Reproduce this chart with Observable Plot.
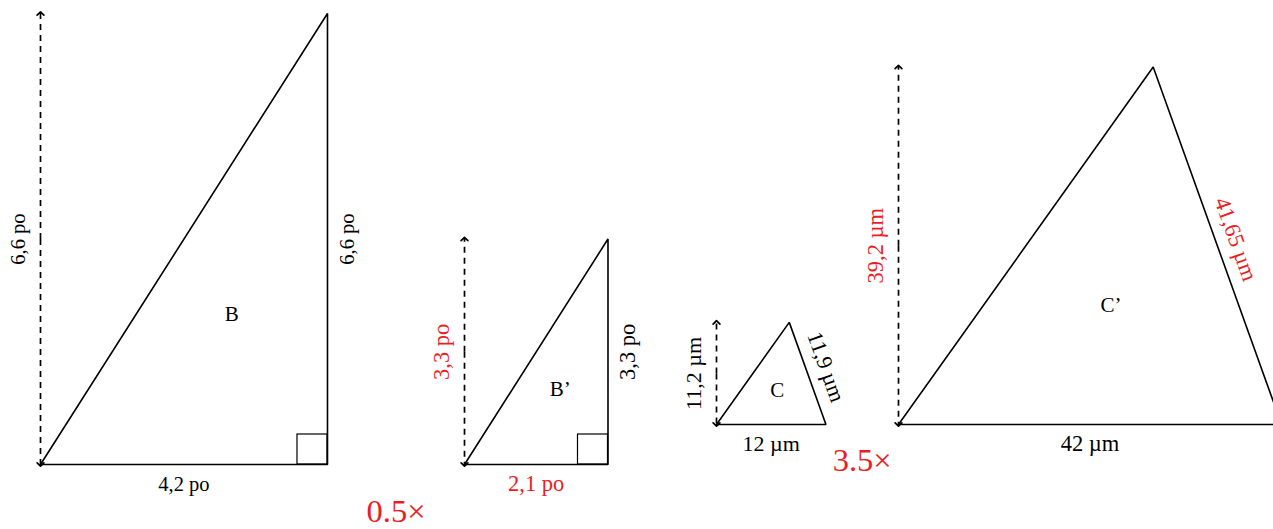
<!DOCTYPE html>
<html><head><meta charset="utf-8">
<script src="https://cdn.jsdelivr.net/npm/d3@7"></script>
<script src="https://cdn.jsdelivr.net/npm/@observablehq/plot@0.6"></script>
<style>
html,body{margin:0;padding:0;background:#fff;}
svg marker path{stroke-dasharray:none !important;}
</style></head><body><div id="chart"></div>
<script>
// ---- data ----
const shapes = ["B", "B’", "C", "C’"];
const units = ["po", "po", "µm", "µm"];
const bases = [4.2, 2.1, 12, 42];
const heights = [6.6, 3.3, 11.2, 39.2];
const sides = [6.6, 3.3, 11.9, 41.65];
const rightAngle = [true, true, false, false];
const baseLabels = ["4,2 po", "2,1 po", "12 µm", "42 µm"];
const heightLabels = ["6,6 po", "3,3 po", "11,2 µm", "39,2 µm"];
const sideLabels = ["6,6 po", "3,3 po", "11,9 µm", "41,65 µm"];
const baseIsImage = [false, true, false, false];
const heightIsImage = [false, true, false, true];
const sideIsImage = [false, false, false, true];
const factors = ["0.5×", "3.5×"];
const factorPairs = [[0, 1], [2, 3]];

// ---- layout ----
const W = 1273, H = 529;
const pxPerUnit = {"po": 68.33, "µm": 9.12};
const origins = [[40, 464], [464, 464], [716, 424], [898, 424]];
const labelSize = [20.5, 22.5, 22, 22.5];
const factorDrop = [47, 36];
const BLACK = "#000000", RED = "#ed1c24";
const FONT = "Liberation Serif";

const geo = shapes.map((s, i) => {
  const k = pxPerUnit[units[i]];
  const [ox, oy] = origins[i];
  const run = rightAngle[i] ? bases[i] : bases[i] - Math.sqrt(sides[i] ** 2 - heights[i] ** 2);
  const A = [ox, oy], Bv = [ox + bases[i] * k, oy], Cv = [ox + run * k, oy - heights[i] * k];
  return {s, i, A, Bv, Cv};
});

const triPts = geo.flatMap(g => [g.A, g.Bv, g.Cv, g.A].map(p => ({shape: g.s, x: p[0], y: p[1]})));

const arrows = geo.flatMap(g => {
  const mid = (g.A[1] + g.Cv[1]) / 2;
  return [
    {x1: g.A[0], y1: mid, x2: g.A[0], y2: g.Cv[1]},
    {x1: g.A[0], y1: mid, x2: g.A[0], y2: g.A[1]}
  ];
});

const squares = geo.filter(g => rightAngle[g.i]).map(g => ({x1: g.Bv[0] - 30, x2: g.Bv[0], y1: g.Bv[1] - 30, y2: g.Bv[1]}));

const labels = [];
geo.forEach(g => {
  const i = g.i, fs = labelSize[i];
  labels.push({text: baseLabels[i], x: (g.A[0] + g.Bv[0]) / 2, y: g.A[1] + 19.5, rotate: 0, fill: baseIsImage[i] ? RED : BLACK, size: fs});
  labels.push({text: heightLabels[i], x: g.A[0] - 22.5, y: (g.A[1] + g.Cv[1]) / 2, rotate: -90, fill: heightIsImage[i] ? RED : BLACK, size: fs});
  const dx = g.Bv[0] - g.Cv[0], dy = g.Bv[1] - g.Cv[1], len = Math.hypot(dx, dy);
  const nx = dy / len, ny = -dx / len;
  const ang = Math.atan2(dy, dx) * 180 / Math.PI;
  labels.push({text: sideLabels[i], x: (g.Bv[0] + g.Cv[0]) / 2 + 19.5 * nx, y: (g.Bv[1] + g.Cv[1]) / 2 + 19.5 * ny,
    rotate: rightAngle[i] ? -90 : ang, fill: sideIsImage[i] ? RED : BLACK, size: fs});
  labels.push({text: g.s, x: (g.A[0] + g.Bv[0] + g.Cv[0]) / 3, y: (g.A[1] + g.Bv[1] + g.Cv[1]) / 3, rotate: 0, fill: BLACK, size: 21});
});
factors.forEach((f, j) => {
  const [a, b] = factorPairs[j];
  labels.push({text: f, x: (geo[a].Bv[0] + geo[b].A[0]) / 2, y: geo[a].A[1] + factorDrop[j], rotate: 0, fill: RED, size: 32.5});
});

const chart = Plot.plot({
  width: W, height: H,
  margin: 0,
  x: {type: "linear", domain: [0, W], range: [0, W], axis: null},
  y: {type: "linear", domain: [0, H], range: [0, H], axis: null},
  color: {type: "identity"},
  style: {background: "#fff", fontFamily: FONT, overflow: "hidden"},
  marks: [
    Plot.line(triPts, {x: "x", y: "y", z: "shape", stroke: BLACK, strokeWidth: 1.6, strokeLinejoin: "miter", curve: "linear"}),
    Plot.rect(squares, {x1: "x1", x2: "x2", y1: "y1", y2: "y2", fill: "none", stroke: BLACK, strokeWidth: 1.2}),
    Plot.link(arrows, {x1: "x1", y1: "y1", x2: "x2", y2: "y2", stroke: BLACK, strokeWidth: 1.7, strokeDasharray: "6,5", markerEnd: "arrow"}),
    Plot.text(labels, {x: "x", y: "y", text: "text", rotate: "rotate", fill: "fill", fontSize: "size", fontFamily: FONT, textAnchor: "middle", lineAnchor: "middle"})
  ]
});
document.getElementById("chart").appendChild(chart);
</script>
</body></html>
